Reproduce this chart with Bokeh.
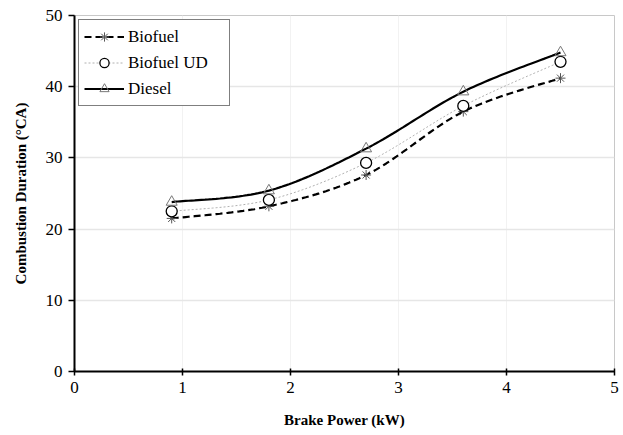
import numpy as np
from bokeh.plotting import figure
from bokeh.models import Range1d, Legend, LegendItem, FixedTicker
from bokeh.embed import file_html
from bokeh.resources import INLINE

brake_power = [0.9, 1.8, 2.7, 3.6, 4.5]
biofuel = [21.5, 23.2, 27.6, 36.5, 41.2]
biofuel_ud = [22.5, 24.1, 29.3, 37.3, 43.5]
diesel = [23.8, 25.4, 31.3, 39.3, 44.8]

FONT = "Liberation Serif"


def smooth(xs, ys, n=30):
    xs = np.asarray(xs, float)
    ys = np.asarray(ys, float)
    px = np.concatenate([[xs[0]], xs, [xs[-1]]])
    py = np.concatenate([[ys[0]], ys, [ys[-1]]])
    ox, oy = [], []
    for i in range(1, len(px) - 2):
        p0x, p1x, p2x, p3x = px[i - 1], px[i], px[i + 1], px[i + 2]
        p0y, p1y, p2y, p3y = py[i - 1], py[i], py[i + 1], py[i + 2]
        c1x = p1x + (p2x - p0x) / 6
        c1y = p1y + (p2y - p0y) / 6
        c2x = p2x - (p3x - p1x) / 6
        c2y = p2y - (p3y - p1y) / 6
        t = np.linspace(0, 1, n)
        bx = (1 - t) ** 3 * p1x + 3 * (1 - t) ** 2 * t * c1x + 3 * (1 - t) * t ** 2 * c2x + t ** 3 * p2x
        by = (1 - t) ** 3 * p1y + 3 * (1 - t) ** 2 * t * c1y + 3 * (1 - t) * t ** 2 * c2y + t ** 3 * p2y
        ox.extend(bx.tolist())
        oy.extend(by.tolist())
    return ox, oy


p = figure(width=620, height=430, output_backend="svg", toolbar_location=None,
           x_range=Range1d(0, 5), y_range=Range1d(0, 50),
           min_border_left=74, min_border_right=6, min_border_top=15, min_border_bottom=56)

p.outline_line_color = "#c8c8c8"
p.outline_line_width = 1
p.background_fill_color = "white"
p.border_fill_color = "white"

p.xgrid.grid_line_color = "#f2f2f2"
p.ygrid.grid_line_color = "#e6e6e6"
p.ygrid.grid_line_width = 1.5

p.xaxis.ticker = FixedTicker(ticks=[0, 1, 2, 3, 4, 5])
p.yaxis.ticker = FixedTicker(ticks=[0, 10, 20, 30, 40, 50])
p.xaxis.minor_tick_line_color = None
p.yaxis.minor_tick_line_color = None

for ax in (p.xaxis, p.yaxis):
    ax.axis_line_color = "black"
    ax.axis_line_width = 2
    ax.major_tick_line_color = "black"
    ax.major_tick_line_width = 1.5
    ax.major_label_text_font = FONT
    ax.major_label_text_font_size = "17px"
    ax.major_label_text_color = "black"
    ax.axis_label_text_font = FONT
    ax.axis_label_text_font_size = "15px"
    ax.axis_label_text_font_style = "bold"
    ax.axis_label_text_color = "black"

p.xaxis.major_tick_in = 3
p.xaxis.major_tick_out = 4
p.yaxis.major_tick_in = 0
p.yaxis.major_tick_out = 6
p.xaxis.major_label_standoff = 6
p.yaxis.major_label_standoff = 6
p.xaxis.axis_label = "Brake Power (kW)"
p.yaxis.axis_label = "Combustion Duration (°CA)"
p.xaxis.axis_label_standoff = 16
p.yaxis.axis_label_standoff = 14

sx, sy = smooth(brake_power, biofuel)
l1 = p.line(sx, sy, line_color="black", line_width=2.2, line_dash="7 4")
m1 = p.scatter(brake_power, biofuel, marker="asterisk", size=10, line_color="#555555", line_width=1)

sx, sy = smooth(brake_power, biofuel_ud)
l2 = p.line(sx, sy, line_color="#b0b0b0", line_width=1, line_dash="2 2")
m2 = p.scatter(brake_power, biofuel_ud, marker="circle", size=11, fill_color="white",
               line_color="black", line_width=1.3)

sx, sy = smooth(brake_power, diesel)
l3 = p.line(sx, sy, line_color="black", line_width=2.2)
m3 = p.scatter(brake_power, diesel, marker="triangle", size=11, fill_color=None,
               line_color="#777777", line_width=1)

legend = Legend(items=[
    LegendItem(label="Biofuel", renderers=[l1, m1]),
    LegendItem(label="Biofuel UD", renderers=[l2, m2]),
    LegendItem(label="Diesel", renderers=[l3, m3]),
], location="top_left")
legend.label_text_font = FONT
legend.label_text_font_size = "17px"
legend.label_text_color = "black"
legend.border_line_color = "black"
legend.border_line_width = 1
legend.background_fill_color = "white"
legend.background_fill_alpha = 1
legend.glyph_width = 40
legend.glyph_height = 23
legend.label_width = 96
legend.label_standoff = 4
legend.spacing = 3
legend.padding = 5
legend.margin = 4
p.add_layout(legend)

open("out.html", "w").write(file_html(p, INLINE))
